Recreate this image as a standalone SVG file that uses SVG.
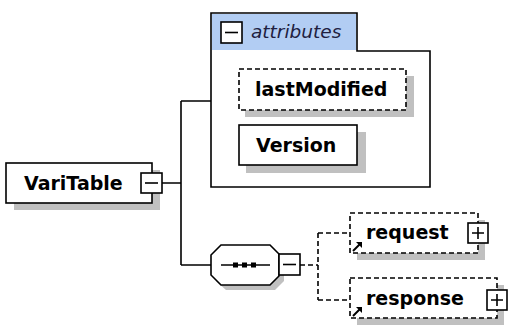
<svg xmlns="http://www.w3.org/2000/svg" width="509" height="327" viewBox="0 0 509 327">
<style>
.box{fill:#fff;stroke:#000;stroke-width:1.6}
.dbox{fill:#fff;stroke:#000;stroke-width:1.6;stroke-dasharray:5 3}
.sh{fill:#c0c0c0}
.lbl{font-family:"DejaVu Sans",Verdana,sans-serif;font-weight:bold;font-size:19px;fill:#000}
.ln{fill:none;stroke:#000;stroke-width:1.6}
.dl{fill:none;stroke:#000;stroke-width:1.6;stroke-dasharray:5 3}
.btn{fill:#fff;stroke:#000;stroke-width:1.6}
</style>
<rect width="509" height="327" fill="#fff"/>
<g id="connectors">
<path class="ln" d="M162 183H181M181 101V265M181 101H211M181 265H211"/>
<path class="dl" d="M300 265H318M318 233V300M318 233H350M318 300H350"/>
</g>
<g id="attributes">
<path class="box" d="M211 13H357V51H430V187H211Z"/>
<rect x="212" y="14" width="144" height="36" fill="#b2cdf3"/>
<rect class="btn" x="221" y="22" width="21" height="21"/>
<path class="ln" d="M225 32.5H238"/>
<text x="251" y="38" font-family="'DejaVu Sans',Verdana,sans-serif" font-style="italic" font-size="18.5" fill="#202040">attributes</text>
</g>
<g id="lastModified">
<rect class="sh" x="245" y="76" width="169" height="41"/>
<rect class="dbox" x="239" y="69" width="167" height="41"/>
<text class="lbl" x="255" y="96">lastModified</text>
</g>
<g id="Version">
<rect class="sh" x="246" y="132" width="120" height="41"/>
<rect class="box" x="239" y="125" width="118" height="40"/>
<text class="lbl" x="256" y="152">Version</text>
</g>
<g id="VariTable">
<rect class="sh" x="14" y="170" width="146" height="40"/>
<rect class="box" x="6" y="163" width="146" height="40"/>
<text class="lbl" x="24" y="190">VariTable</text>
<rect class="btn" x="141" y="173" width="21" height="20"/>
<path class="ln" d="M145 183H158"/>
</g>
<g id="sequence">
<path class="sh" d="M226 250H275L284 259V281L275 290H226L216 281V259Z"/>
<path class="box" d="M221 245H270L279 254V276L270 285H221L211 275V255Z"/>
<path class="ln" d="M221 265H270"/>
<rect x="233" y="262.5" width="5" height="5" fill="#000"/>
<rect x="242" y="262.5" width="5" height="5" fill="#000"/>
<rect x="251" y="262.5" width="5" height="5" fill="#000"/>
<rect class="btn" x="279" y="254" width="21" height="21"/>
<path class="ln" d="M283 264.5H296"/>
</g>
<g id="request">
<rect class="sh" x="357" y="220" width="128" height="40"/>
<rect class="dbox" x="350" y="213" width="128" height="40"/>
<text class="lbl" x="366" y="239">request</text>
<path d="M353 251L360 244" stroke="#000" stroke-width="2"/>
<path d="M356 242H362V248Z" fill="#000"/>
<rect class="btn" x="468" y="223" width="20" height="20"/>
<path class="ln" d="M472 233H484M478 227V239"/>
</g>
<g id="response">
<rect class="sh" x="357" y="285" width="147" height="40"/>
<rect class="dbox" x="350" y="278" width="147" height="40"/>
<text class="lbl" x="366" y="305">response</text>
<path d="M353 316L360 309" stroke="#000" stroke-width="2"/>
<path d="M356 307H362V313Z" fill="#000"/>
<rect class="btn" x="487" y="290" width="20" height="20"/>
<path class="ln" d="M491 300H503M497 294V306"/>
</g>
</svg>
